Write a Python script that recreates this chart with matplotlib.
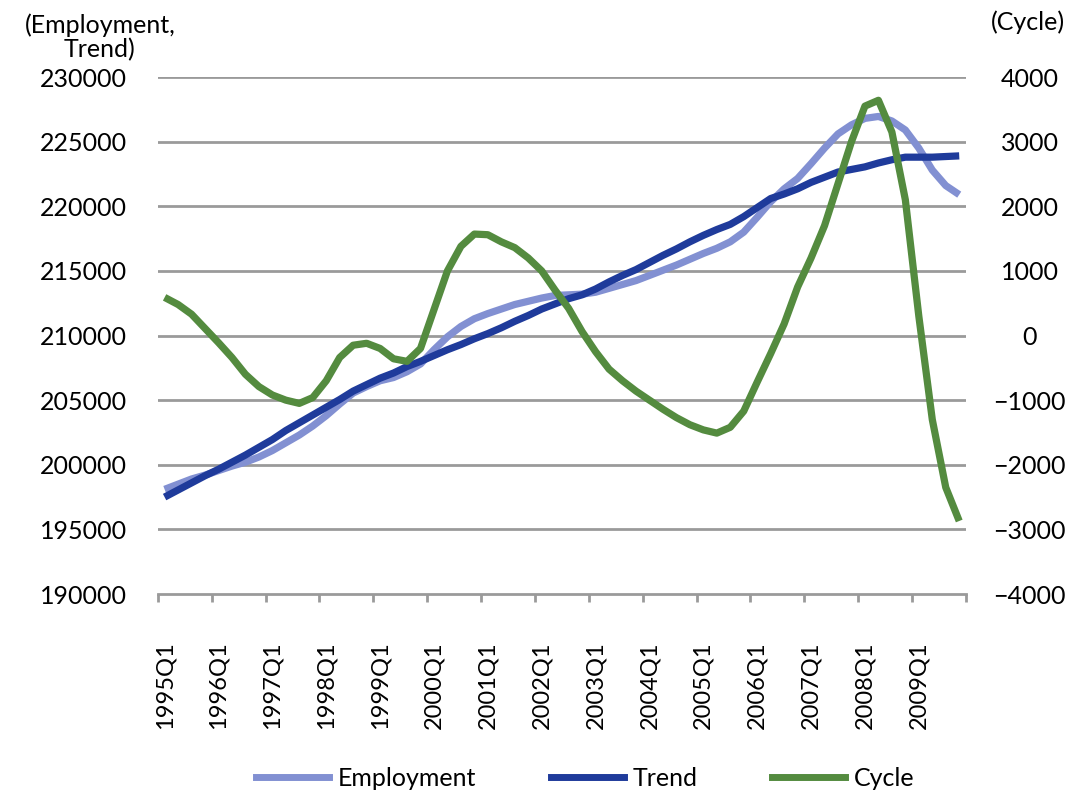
import numpy as np
import matplotlib
matplotlib.use("Agg")
import matplotlib.pyplot as plt

plt.rcParams["font.family"] = ["Lato", "DejaVu Sans"]

# quarters 1995Q1 .. 2009Q4
quarters = [f"{y}Q{q}" for y in range(1995, 2010) for q in range(1, 5)]

employment = [
    198100, 198500, 198900, 199200, 199550, 199900, 200200, 200600, 201100, 201700,
    202300, 203000, 203800, 204700, 205550, 206050, 206500, 206750, 207200, 207800,
    208900, 209900, 210700, 211300, 211700, 212050, 212400, 212650, 212900, 213100,
    213150, 213200, 213350, 213650, 213950, 214250, 214650, 215050, 215450, 215900,
    216350, 216750, 217250, 218000, 219150, 220350, 221350, 222150, 223300, 224500,
    225600, 226300, 226800, 226950, 226600, 225900, 224500, 222800, 221600, 220900,
]

trend = [
    197500, 198050, 198600, 199150, 199650, 200200, 200750, 201350, 201950, 202650,
    203250, 203850, 204450, 205050, 205700, 206200, 206700, 207100, 207600, 208000,
    208450, 208900, 209300, 209750, 210150, 210600, 211100, 211550, 212050, 212450,
    212850, 213150, 213600, 214150, 214650, 215100, 215650, 216200, 216700, 217250,
    217750, 218200, 218600, 219200, 219900, 220600, 220950, 221350, 221850, 222250,
    222650, 222850, 223050, 223350, 223600, 223800, 223800, 223800, 223850, 223900,
]

cycle = [
    590, 480, 330, 110, -110, -340, -600, -790, -920, -1000,
    -1050, -960, -700, -340, -150, -120, -200, -360, -400, -200,
    400, 1000, 1380, 1570, 1560, 1450, 1360, 1200, 1000, 700,
    420, 60, -250, -520, -700, -860, -1000, -1140, -1270, -1380,
    -1460, -1510, -1420, -1170, -720, -280, 180, 750, 1200, 1700,
    2350, 3000, 3550, 3640, 3150, 2100, 300, -1300, -2350, -2870,
]

c_emp = "#8290d2"
c_trend = "#1f3b9b"
c_cycle = "#548b3f"
c_grid = "#9a9a9a"
fs = 18

x = np.arange(len(quarters))

fig = plt.figure(figsize=(10.74, 7.95), dpi=100)
ax = fig.add_axes([0.147, 0.2528, 0.7524, 0.6503])
ax2 = ax.twinx()

line_kw = dict(lw=5.2, solid_capstyle="butt", solid_joinstyle="round")
ax.plot(x, employment, color=c_emp, zorder=3, **line_kw)
ax.plot(x, trend, color=c_trend, zorder=4, **line_kw)
ax2.plot(x, cycle, color=c_cycle, zorder=5, **line_kw)

ax.set_ylim(190000, 230000)
ax.set_yticks(np.arange(190000, 230001, 5000))
ax2.set_ylim(-4000, 4000)
ax2.set_yticks(np.arange(-4000, 4001, 1000))
ax.set_xlim(-0.5, len(quarters) - 0.5)

for v in np.arange(195000, 230001, 5000):
    ax.axhline(v, color=c_grid, lw=2, zorder=1)

# ticks at year boundaries, labels at first quarter of each year
ax.set_xticks(np.arange(-0.5, len(quarters), 4))
ax.set_xticklabels([])
ax.set_xticks(np.arange(0, len(quarters), 4), minor=True)
ax.set_xticklabels(quarters[::4], minor=True, rotation=90, fontsize=fs - 1)
ax.tick_params(axis="x", which="major", length=6, width=2, color=c_grid)
ax.tick_params(axis="x", which="minor", length=0, pad=34)

for a in (ax, ax2):
    for s in a.spines.values():
        s.set_visible(False)
ax.spines["bottom"].set_visible(True)
ax.spines["bottom"].set_color(c_grid)
ax.spines["bottom"].set_linewidth(2)

ax.tick_params(axis="y", length=0, pad=22, labelsize=fs)
ax2.tick_params(axis="y", length=0, pad=46, labelsize=fs)
for lbl in ax2.get_yticklabels():
    lbl.set_horizontalalignment("center")

fig.text(0.093, 0.953, "(Employment,\nTrend)", ha="center", va="center",
         fontsize=fs, linespacing=1.1)
fig.text(0.957, 0.972, "(Cycle)", ha="center", va="center", fontsize=fs)

handles = [
    plt.Line2D([], [], color=c_emp, lw=5),
    plt.Line2D([], [], color=c_trend, lw=5),
    plt.Line2D([], [], color=c_cycle, lw=5),
]
fig.legend(handles, ["Employment", "Trend", "Cycle"], loc="center",
           bbox_to_anchor=(0.545, 0.021), ncol=3, frameon=False, fontsize=fs,
           handlelength=2.9, handletextpad=0.35, columnspacing=3.0)

fig.savefig("out.png", dpi=100)
